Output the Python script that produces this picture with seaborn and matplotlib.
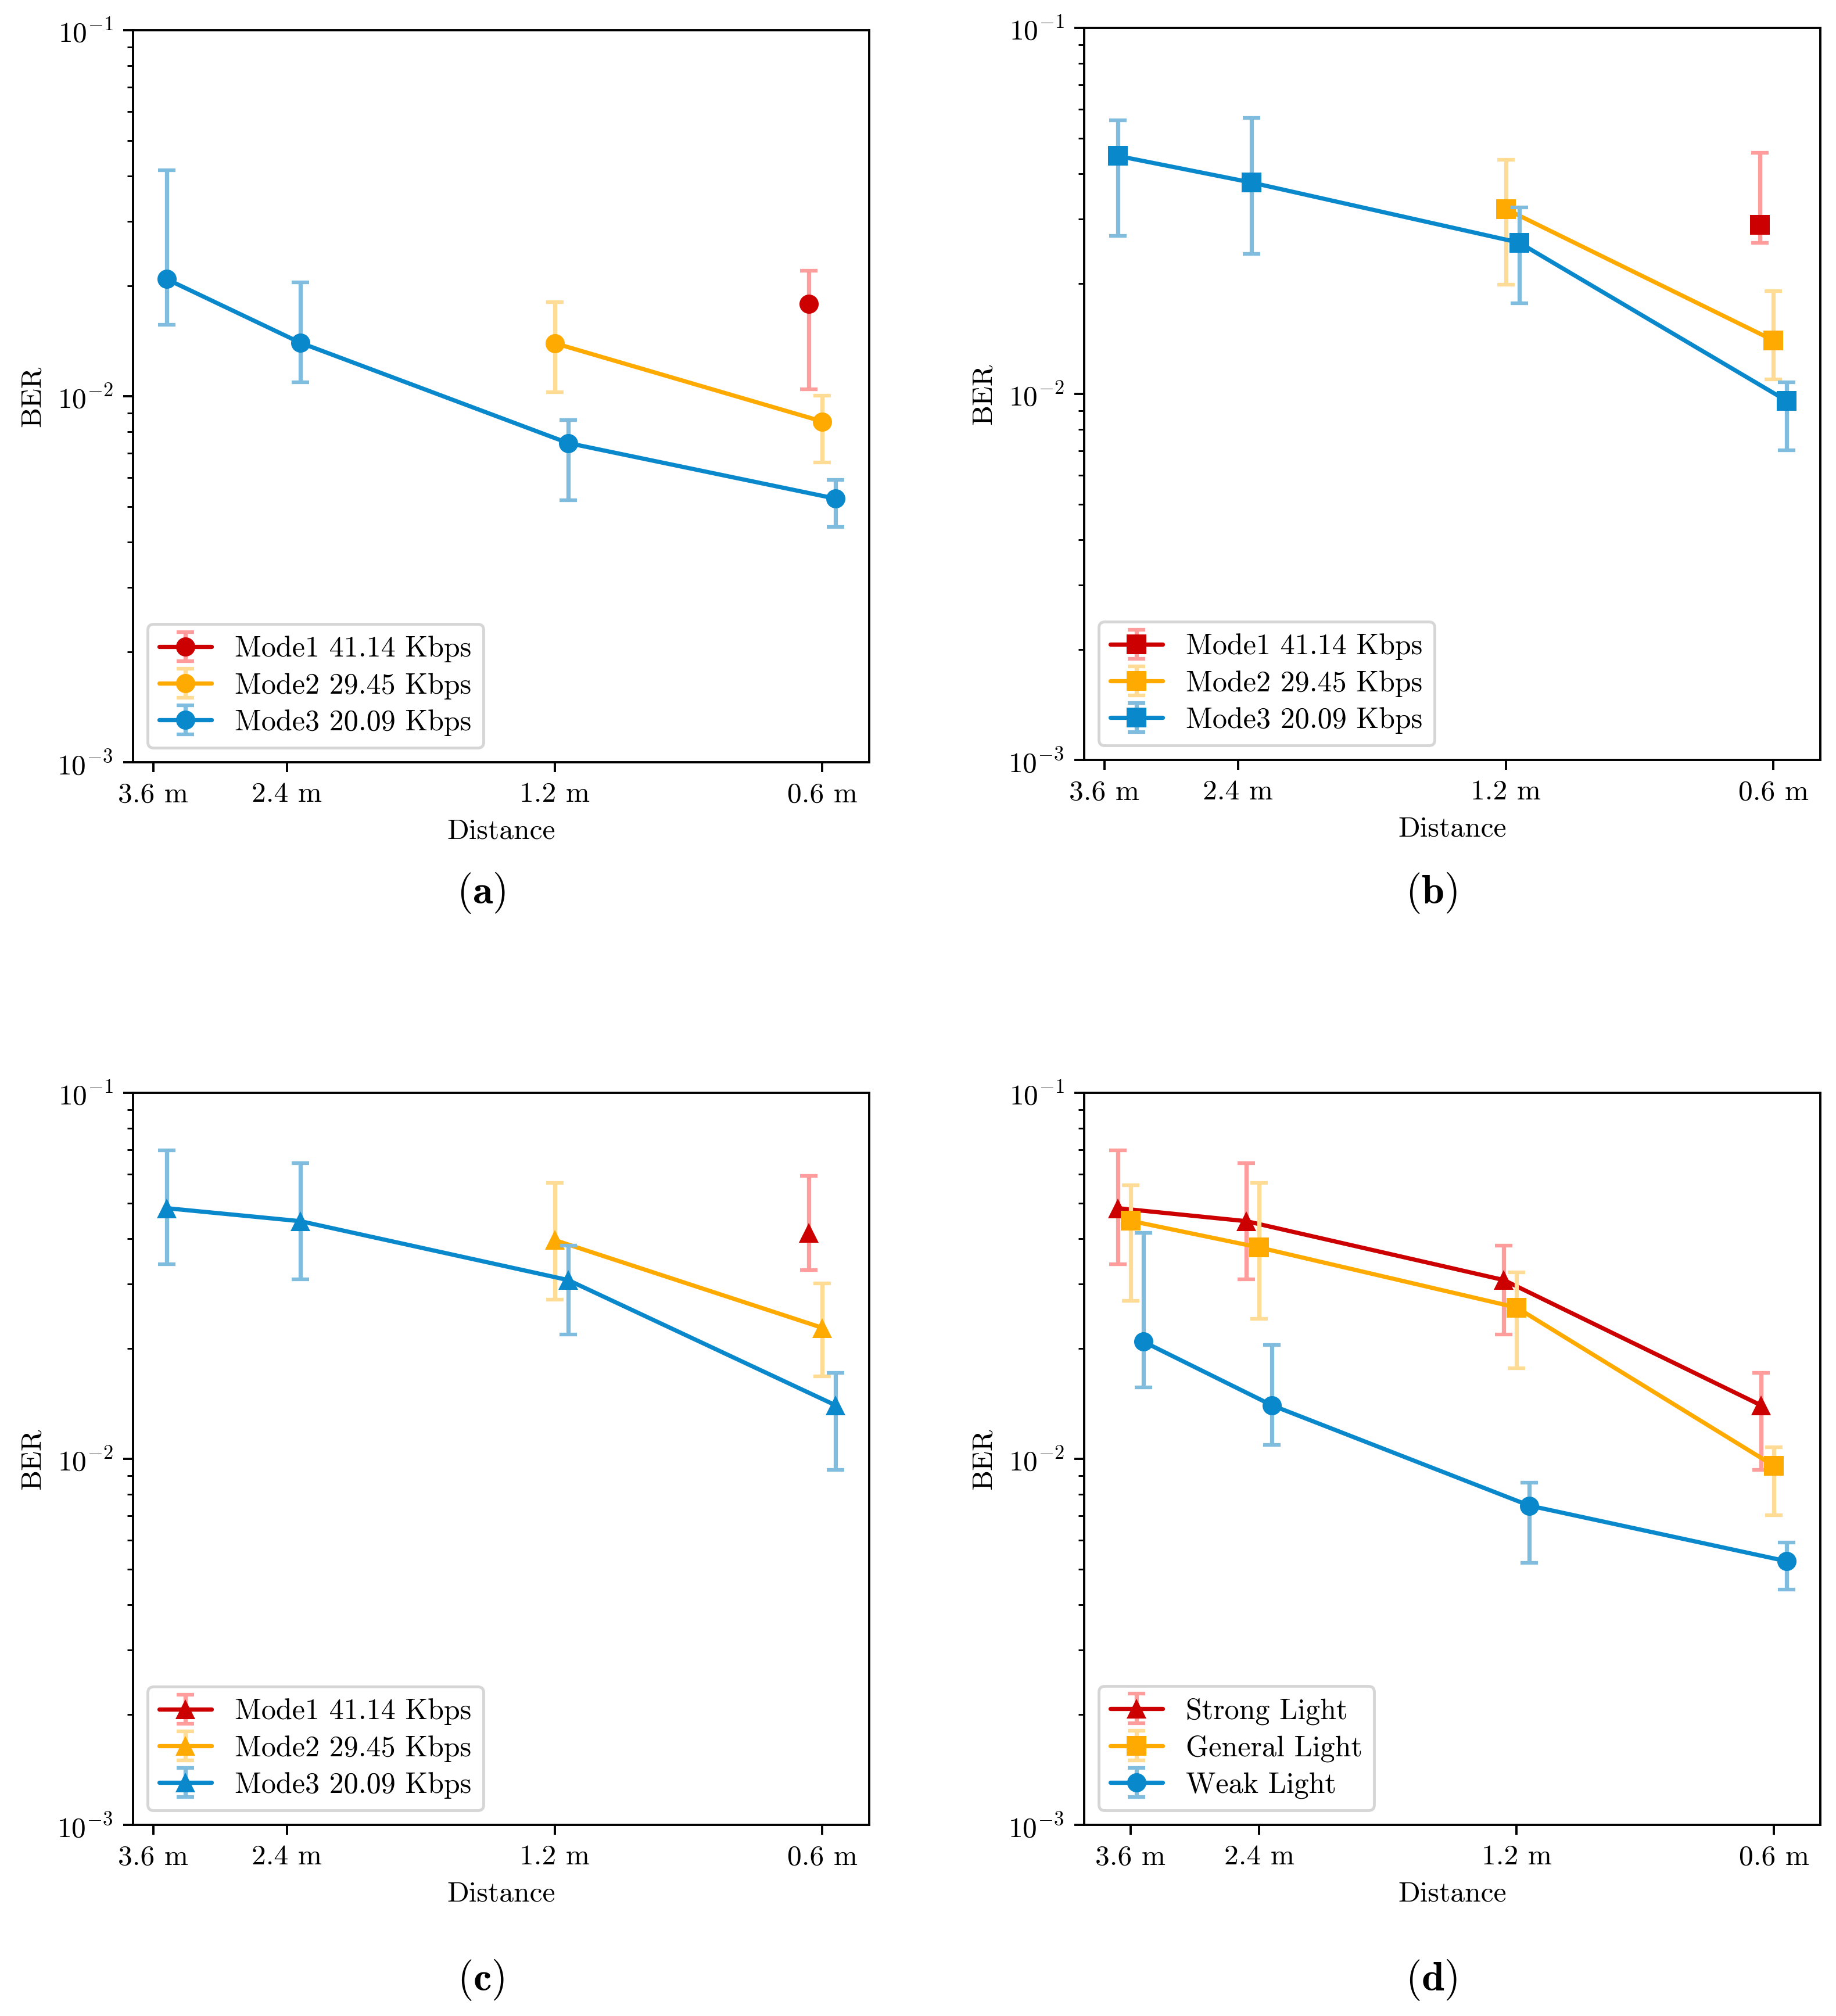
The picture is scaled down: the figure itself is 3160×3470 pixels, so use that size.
import numpy as np
import pandas as pd
import matplotlib
matplotlib.use("Agg")
import matplotlib.pyplot as plt
import seaborn as sns

nan = np.nan

# x axis: distances (category positions on the axis)
dist_labels = ["3.6 m", "2.4 m", "1.2 m", "0.6 m"]
dist_pos = [0, 1, 3, 5]

mode_labels = ["Mode1 41.14 Kbps", "Mode2 29.45 Kbps", "Mode3 20.09 Kbps"]
light_labels = ["Strong Light", "General Light", "Weak Light"]

# (a) weak light
weak_m1 = [nan, nan, nan, 0.0179]
weak_m1_lo = [nan, nan, nan, 0.01045]
weak_m1_hi = [nan, nan, nan, 0.0220]
weak_m2 = [nan, nan, 0.01396, 0.00853]
weak_m2_lo = [nan, nan, 0.01026, 0.0066]
weak_m2_hi = [nan, nan, 0.01811, 0.01003]
weak_m3 = [0.0209, 0.0140, 0.00745, 0.00525]
weak_m3_lo = [0.0157, 0.0109, 0.0052, 0.0044]
weak_m3_hi = [0.0415, 0.0205, 0.0086, 0.0059]

# (b) general light
gen_m1 = [nan, nan, nan, 0.0290]
gen_m1_lo = [nan, nan, nan, 0.0259]
gen_m1_hi = [nan, nan, nan, 0.0456]
gen_m2 = [nan, nan, 0.0320, 0.0140]
gen_m2_lo = [nan, nan, 0.0199, 0.01094]
gen_m2_hi = [nan, nan, 0.0436, 0.0191]
gen_m3 = [0.0447, 0.0378, 0.0259, 0.00957]
gen_m3_lo = [0.0270, 0.0241, 0.0177, 0.00702]
gen_m3_hi = [0.0560, 0.0568, 0.0323, 0.01074]

# (c) strong light
str_m1 = [nan, nan, nan, 0.0414]
str_m1_lo = [nan, nan, nan, 0.0328]
str_m1_hi = [nan, nan, nan, 0.0594]
str_m2 = [nan, nan, 0.0396, 0.0228]
str_m2_lo = [nan, nan, 0.0272, 0.0168]
str_m2_hi = [nan, nan, 0.0568, 0.0302]
str_m3 = [0.0484, 0.0446, 0.0308, 0.0140]
str_m3_lo = [0.0340, 0.0309, 0.0219, 0.00934]
str_m3_hi = [0.0697, 0.0642, 0.0383, 0.0172]

sns.set_theme(style="ticks", rc={"axes.edgecolor": "black", "xtick.color": "black",
                                 "ytick.color": "black", "axes.labelcolor": "black",
                                 "text.color": "black"})
plt.rcParams["font.family"] = ["cmr10", "DejaVu Serif"]
plt.rcParams["mathtext.fontset"] = "cm"
plt.rcParams["axes.formatter.use_mathtext"] = True
plt.rcParams["font.size"] = 10
plt.rcParams["axes.linewidth"] = 0.8
plt.rcParams["xtick.major.width"] = 0.8
plt.rcParams["ytick.major.width"] = 0.8
plt.rcParams["ytick.minor.width"] = 0.6
plt.rcParams["xtick.major.size"] = 3.5
plt.rcParams["ytick.major.size"] = 3.5
plt.rcParams["ytick.minor.size"] = 2.0

reds = ("#cc0000", "#ff9d9d")
oranges = ("#ffaa00", "#ffdc96")
blues = ("#0a88cc", "#80bcdd")
shifts = [-0.1, 0.0, 0.1]

W, H, DPI = 3160, 3470, 350
fig = plt.figure(figsize=(W / DPI, H / DPI), dpi=DPI)
aw, ah = 1267 / W, 1260 / H
boxes = {
    "a": [229 / W, 1 - 1312 / H, aw, ah],
    "b": [1866 / W, 1 - 1308 / H, aw, ah],
    "c": [229 / W, 1 - 3141 / H, aw, ah],
    "d": [1866 / W, 1 - 3141 / H, aw, ah],
}
label_pos = {"a": (0.262, 0.557), "b": (0.7795, 0.557), "c": (0.262, 0.018), "d": (0.7795, 0.018)}


def draw(ax, series, labels):
    handles = []
    for (ber, lo, hi, marker, cols), shift in zip(series, shifts):
        x = np.array(dist_pos, dtype=float) + shift
        y = np.array(ber)
        err = [y - np.array(lo), np.array(hi) - y]
        eb = ax.errorbar(x, y, yerr=err, fmt="none", ecolor=cols[1], elinewidth=1.5,
                         capsize=3, capthick=1.3)
        df = pd.DataFrame({"x": x, "y": y}).dropna()
        sns.lineplot(data=df, x="x", y="y", ax=ax, color=cols[0], marker=marker,
                     markersize=6.8, linewidth=1.5, markeredgewidth=0, legend=False)
        handles.append((eb, ax.lines[-1]))
    ax.set_yscale("log")
    ax.set_ylim(1e-3, 1e-1)
    ax.set_xticks(dist_pos)
    ax.set_xticklabels(dist_labels)
    ax.set_xlabel("Distance", fontsize=10.2)
    ax.set_ylabel("BER", fontsize=10.2)
    ax.tick_params(labelsize=10.2)
    ax.legend(handles, labels, loc="lower left", fontsize=10.3, handlelength=1.8,
              labelspacing=0.35, fancybox=True, framealpha=0.8)


panels = {
    "a": [(weak_m1, weak_m1_lo, weak_m1_hi, "o", reds),
          (weak_m2, weak_m2_lo, weak_m2_hi, "o", oranges),
          (weak_m3, weak_m3_lo, weak_m3_hi, "o", blues)],
    "b": [(gen_m1, gen_m1_lo, gen_m1_hi, "s", reds),
          (gen_m2, gen_m2_lo, gen_m2_hi, "s", oranges),
          (gen_m3, gen_m3_lo, gen_m3_hi, "s", blues)],
    "c": [(str_m1, str_m1_lo, str_m1_hi, "^", reds),
          (str_m2, str_m2_lo, str_m2_hi, "^", oranges),
          (str_m3, str_m3_lo, str_m3_hi, "^", blues)],
    "d": [(str_m3, str_m3_lo, str_m3_hi, "^", reds),
          (gen_m3, gen_m3_lo, gen_m3_hi, "s", oranges),
          (weak_m3, weak_m3_lo, weak_m3_hi, "o", blues)],
}

for key, series in panels.items():
    ax = fig.add_axes(boxes[key])
    draw(ax, series, light_labels if key == "d" else mode_labels)
    fx, fy = label_pos[key]
    fig.text(fx, fy, "(" + r"$\mathbf{" + key + "}$" + ")", ha="center", va="center", fontsize=14.5)

fig.savefig("out.png", dpi=DPI)
